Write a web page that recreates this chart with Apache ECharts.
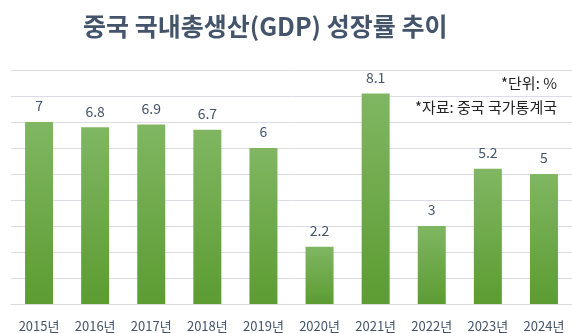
<!DOCTYPE html>
<html><head><meta charset="utf-8">
<script src="https://cdn.jsdelivr.net/npm/echarts@6/dist/echarts.min.js"></script>
<style>html,body{margin:0;padding:0;background:#fff}#c{width:572px;height:333px}</style>
</head><body><div id="c"></div>
<script>
const categories = ['2015년','2016년','2017년','2018년','2019년','2020년','2021년','2022년','2023년','2024년'];
const growth = [7, 6.8, 6.9, 6.7, 6, 2.2, 8.1, 3, 5.2, 5];
const titleText = '중국 국내총생산(GDP) 성장률 추이';
const unitNote = '*단위: %';
const sourceNote = '*자료: 중국 국가통계국';
const font = '"Noto Sans CJK KR", "Noto Sans", sans-serif';
const chart = echarts.init(document.getElementById('c'));
chart.setOption({
  animation: false,
  title: [
    {text: titleText, left: 78, top: 9, textStyle: {fontFamily: font, fontSize: 25, fontWeight: 'bold', color: '#44546a'}},
    {text: unitNote, right: 15, top: 76, padding: 0, textStyle: {fontFamily: font, fontSize: 15, fontWeight: 'normal', color: '#222'}},
    {text: sourceNote, right: 15, top: 100, padding: 0, textStyle: {fontFamily: font, fontSize: 15, fontWeight: 'normal', color: '#222'}}
  ],
  grid: {left: 11, right: -2, top: 70, bottom: 29, containLabel: false},
  xAxis: {
    type: 'category', data: categories,
    axisLine: {lineStyle: {color: '#d9d9d9'}}, axisTick: {show: false},
    axisLabel: {fontFamily: font, fontSize: 13, color: '#44546a', margin: 16, interval: 0}
  },
  yAxis: {
    type: 'value', min: 0, max: 9, interval: 1,
    axisLabel: {show: false}, axisLine: {show: false}, axisTick: {show: false},
    splitLine: {lineStyle: {color: '#dcdce6', width: 1}}
  },
  series: [{
    type: 'bar', data: growth, barWidth: 28,
    itemStyle: {color: new echarts.graphic.LinearGradient(0, 0, 0, 1, [
      {offset: 0, color: '#80b662'}, {offset: 1, color: '#5c9c32'}])},
    label: {show: true, position: 'top', distance: 9, fontFamily: font, fontSize: 14, color: '#44546a'}
  }]
});
</script></body></html>
